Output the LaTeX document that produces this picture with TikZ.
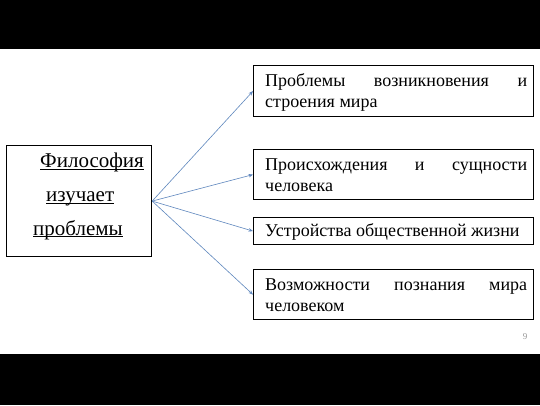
\documentclass[tikz,border=0pt]{standalone}
\usepackage{fontspec}
\setmainfont{Liberation Serif}
\usetikzlibrary{arrows.meta}
\definecolor{linkblue}{RGB}{95,135,190}
\definecolor{pagegray}{RGB}{150,150,150}
\begin{document}
\begin{tikzpicture}[x=1pt,y=-1pt,
  boxr/.style={draw=black,line width=1.2pt,minimum width=280pt,inner sep=0pt,anchor=north west},
  txt/.style={inner sep=0pt,anchor=base west,text width=262pt,align=justify,font=\fontsize{18}{21}\selectfont},
  ltxt/.style={inner sep=0pt,anchor=base west,font=\fontsize{21}{24}\selectfont},
  uline/.style={line width=0.8pt},
  link/.style={draw=linkblue,line width=0.6pt,-{Stealth[length=4.5pt,width=3.5pt]}}]
\useasboundingbox (0,0) rectangle (540,405);
\fill[white] (0,0) rectangle (540,405);
\fill[black] (0,0) rectangle (540,49);
\fill[black] (0,354) rectangle (540,405);
% left box
\node[draw=black,line width=1.2pt,minimum width=145pt,minimum height=111pt,inner sep=0pt,anchor=north west] (L) at (6,145) {};
\node[ltxt] (L1) at (40,167.5) {Философия};
\node[ltxt] (L2) at (46,201.5) {изучает};
\node[ltxt] (L3) at (33,235) {проблемы};
\draw[uline] ([yshift=-1.5pt]L1.base west) -- ([yshift=-1.5pt]L1.base east);
\draw[uline] ([yshift=-1.5pt]L2.base west) -- ([yshift=-1.5pt]L2.base east);
\draw[uline] ([yshift=-1.5pt]L3.base west) -- ([yshift=-1.5pt]L3.base east);
% right boxes
\node[boxr,minimum height=51pt] (B1) at (253,65) {};
\node[boxr,minimum height=50pt] (B2) at (253,149) {};
\node[boxr,minimum height=27pt] (B3) at (253,217) {};
\node[boxr,minimum height=50pt] (B4) at (253,269) {};
\node[txt] (T1) at (265,86) {Проблемы возникновения и\linebreak строения мира};
\node[txt] (T2) at (265,170) {Происхождения и сущности\linebreak человека};
\node[txt] (T3) at (265,236.5) {Устройства общественной жизни};
\node[txt] (T4) at (265,290) {Возможности познания мира\linebreak человеком};
% connectors
\draw[link] (L.east) -- (B1.west);
\draw[link] (L.east) -- (B2.west);
\draw[link] (L.east) -- (B3.west);
\draw[link] (L.east) -- (B4.west);
% page number
\node[text=pagegray,font=\fontsize{9}{10}\selectfont,inner sep=0pt] (pg) at (525,337) {9};
\end{tikzpicture}
\end{document}
